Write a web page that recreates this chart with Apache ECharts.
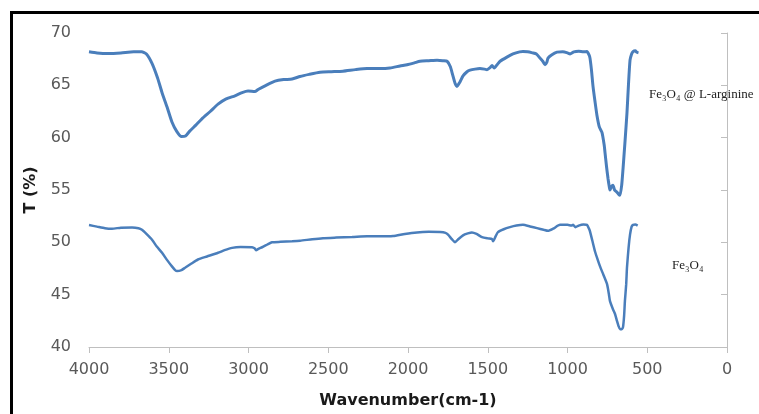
<!DOCTYPE html>
<html>
<head>
<meta charset="utf-8">
<script src="https://cdn.jsdelivr.net/npm/echarts@6/dist/echarts.min.js"></script>
<style>html,body{margin:0;padding:0;background:#fff;}#c{width:759px;height:414px;}</style>
</head>
<body>
<div id="c"></div>
<script>
const xTicks = [4000, 3500, 3000, 2500, 2000, 1500, 1000, 500, 0];
const yTicks = [40, 45, 50, 55, 60, 65, 70];

const argWn = [4000,3950,3880,3800,3720,3670,3640,3605,3570,3542,3510,3480,3450,3420,3395,3370,3330,3292,3240,3191,3140,3085,3040,3003,2960,2940,2890,2834,2780,2727,2677,2620,2552,2480,2408,2330,2257,2180,2113,2050,2006,1960,1925,1870,1818,1780,1755,1735,1720,1705,1693,1675,1655,1630,1611,1580,1549,1520,1505,1485,1473,1460,1440,1423,1380,1342,1300,1279,1250,1220,1195,1172,1155,1141,1130,1122,1100,1066,1030,1000,984,960,930,900,878,865,859,850,840,828,815,800,784,770,765,755,746,738,734,725,715,705,690,680,671,660,652,640,627,618,608,598,589,575,565,555];
const argT = [68.2,68.1,68.05,68.1,68.2,68.2,68.0,67.1,65.7,64.3,62.9,61.5,60.6,60.1,60.15,60.6,61.2,61.8,62.5,63.2,63.7,64.0,64.3,64.45,64.4,64.6,65.0,65.4,65.55,65.6,65.85,66.05,66.25,66.3,66.35,66.5,66.6,66.6,66.65,66.85,66.97,67.15,67.3,67.35,67.4,67.35,67.3,66.8,66.0,65.2,64.9,65.3,65.9,66.3,66.45,66.55,66.6,66.55,66.5,66.7,66.9,66.65,67.0,67.3,67.7,68.0,68.2,68.23,68.2,68.1,68.0,67.6,67.3,66.97,67.2,67.6,67.9,68.17,68.2,68.1,68.0,68.2,68.25,68.2,68.23,67.9,67.6,66.5,64.9,63.5,62.1,61.0,60.5,59.3,58.6,57.2,56.1,55.3,55.0,55.3,55.45,55.0,54.8,54.6,54.5,55.5,57.0,59.5,62.4,65.0,67.4,68.0,68.23,68.3,68.15,68.1];

const feWn = [4000,3950,3900,3856,3800,3730,3690,3668,3640,3605,3575,3542,3510,3480,3460,3448,3420,3398,3360,3317,3260,3191,3150,3103,3050,2978,2960,2953,2935,2915,2880,2853,2800,2727,2677,2600,2533,2450,2350,2257,2180,2094,2020,1944,1870,1799,1765,1749,1725,1705,1685,1655,1625,1599,1570,1536,1500,1473,1467,1450,1436,1400,1361,1320,1279,1235,1191,1150,1122,1090,1047,1000,975,965,950,930,900,878,865,859,845,828,812,796,775,752,740,734,715,702,690,680,671,660,652,645,640,632,627,617,608,598,589,575,560];
const feT = [51.65,51.5,51.35,51.3,51.4,51.42,51.35,51.2,50.8,50.25,49.6,49.0,48.3,47.7,47.35,47.26,47.35,47.57,47.95,48.36,48.65,49.0,49.25,49.47,49.55,49.53,49.4,49.25,49.4,49.53,49.8,50.0,50.05,50.1,50.15,50.3,50.4,50.45,50.5,50.57,50.57,50.6,50.8,50.95,51.0,50.98,50.9,50.73,50.3,50.0,50.3,50.67,50.85,50.95,50.8,50.5,50.38,50.32,50.1,50.6,50.98,51.25,51.45,51.6,51.67,51.52,51.36,51.2,51.1,51.3,51.67,51.67,51.6,51.67,51.45,51.6,51.7,51.67,51.3,51.05,50.2,49.15,48.4,47.7,46.9,46.0,45.0,44.4,43.6,43.15,42.5,42.0,41.7,41.7,41.9,43.0,44.4,46.0,47.6,49.5,50.73,51.5,51.67,51.7,51.6];

const zip = (a, b) => a.map((v, i) => [v, b[i]]);

const chart = echarts.init(document.getElementById('c'), null, {renderer: 'canvas'});
const lineColor = '#4a7ebb';
const axisGray = '#bfbfbf';
chart.setOption({
  animation: false,
  backgroundColor: '#ffffff',
  grid: {left: 89, right: 32, top: 33, bottom: 64, containLabel: false},
  xAxis: {
    type: 'value', inverse: true,
    min: xTicks[xTicks.length - 1], max: xTicks[0], interval: 500,
    name: 'Wavenumber(cm-1)', nameLocation: 'middle', nameGap: 46,
    nameTextStyle: {fontFamily: 'DejaVu Sans', fontWeight: 'bold', fontSize: 16, color: '#1a1a1a'},
    axisLine: {show: true, lineStyle: {color: axisGray, width: 1}},
    axisTick: {show: true, length: 6, lineStyle: {color: axisGray}},
    splitLine: {show: false},
    axisLabel: {fontFamily: 'DejaVu Sans', fontSize: 16, color: '#595959', margin: 15,
                formatter: v => String(v)}
  },
  yAxis: {
    type: 'value', min: yTicks[0], max: yTicks[yTicks.length - 1], interval: 5,
    name: 'T (%)', nameLocation: 'middle', nameGap: 50, nameRotate: 90,
    nameTextStyle: {fontFamily: 'DejaVu Sans', fontWeight: 'bold', fontSize: 16, color: '#1a1a1a'},
    axisLine: {show: true, lineStyle: {color: axisGray, width: 1}},
    axisTick: {show: true, length: 6, lineStyle: {color: axisGray}},
    splitLine: {show: false},
    axisLabel: {fontFamily: 'DejaVu Sans', fontSize: 16, color: '#595959', margin: 18,
                formatter: v => String(v)}
  },
  series: [
    {type: 'line', data: zip(argWn, argT), showSymbol: false, symbol: 'none', smooth: 0.2,
     lineStyle: {color: lineColor, width: 3}},
    {type: 'line', data: zip(feWn, feT), showSymbol: false, symbol: 'none', smooth: 0.2,
     lineStyle: {color: lineColor, width: 2.5}}
  ],
  graphic: [
    {type: 'rect', shape: {x: 11.5, y: 12.5, width: 900, height: 600},
     style: {fill: 'none', stroke: '#000', lineWidth: 3}, silent: true},
    {type: 'text', left: 649, top: 88,
     style: {text: 'Fe₃O₄ @ L-arginine', font: '13px "Liberation Serif", "DejaVu Serif", serif', fill: '#222'}},
    {type: 'text', left: 672, top: 259,
     style: {text: 'Fe₃O₄', font: '13px "Liberation Serif", "DejaVu Serif", serif', fill: '#222'}}
  ]
});
</script>
</body>
</html>
